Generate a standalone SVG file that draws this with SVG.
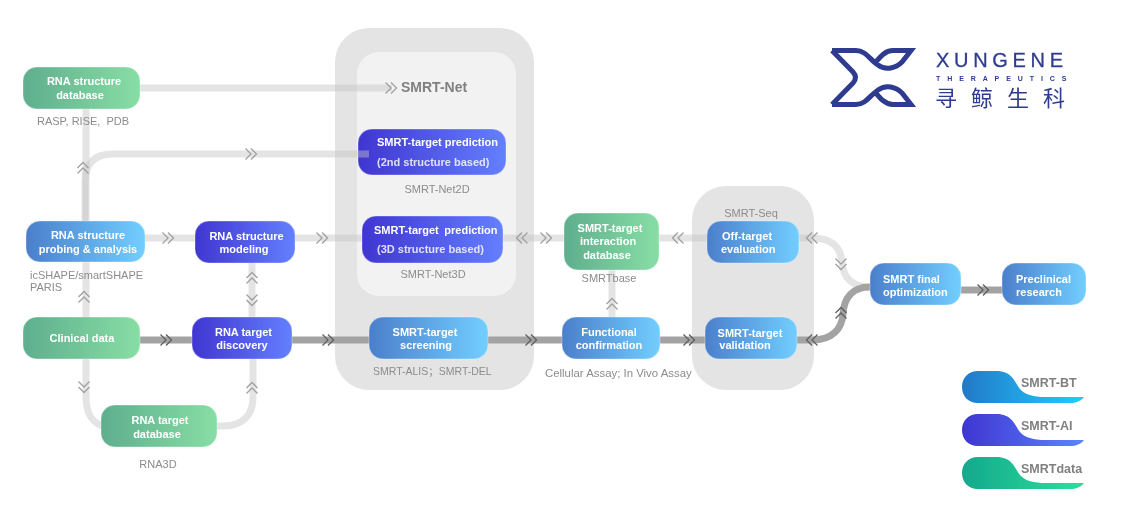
<svg xmlns="http://www.w3.org/2000/svg" width="1146" height="514" viewBox="0 0 1146 514">
<style>
text{font-family:"Liberation Sans",Arial,"Noto Sans CJK SC",sans-serif}
.t{font-size:11px;font-weight:700;fill:#fff;text-anchor:middle}
.s{font-size:11px;font-weight:700;fill:#fff}
.f{fill-opacity:.82}
.l{font-size:11px;fill:#8c8c8c}
.c{text-anchor:middle}
.k{font-size:12.500px;font-weight:700;fill:#808080}
.lt{fill:none;stroke:#c4c4c4;stroke-opacity:.45;stroke-width:7}
.dk{fill:none;stroke:#a3a3a3;stroke-width:7}
.ch{fill:none;stroke:#a0a0a0;stroke-width:1.3}
.chd{fill:none;stroke:#5f5f5f;stroke-width:1.3}
.m{fill:none;stroke:#2f3b8f;stroke-width:5;stroke-miterlimit:8}
.lg{fill:#2f3b8f}
.n{stroke:#fff;stroke-opacity:.35;stroke-width:1}
</style>
<defs>
<filter id="soft" x="0" y="0" width="100%" height="100%" filterUnits="userSpaceOnUse"><feGaussianBlur stdDeviation="0.4"/></filter>
<linearGradient id="gd"><stop offset="0" stop-color="#5fae8e"/><stop offset="1" stop-color="#87dea4"/></linearGradient>
<linearGradient id="gb"><stop offset="0" stop-color="#4b7fcb"/><stop offset="1" stop-color="#72ceff"/></linearGradient>
<linearGradient id="ga"><stop offset="0" stop-color="#4035d1"/><stop offset="1" stop-color="#647fff"/></linearGradient>
<linearGradient id="kb"><stop offset="0" stop-color="#2478c8"/><stop offset="1" stop-color="#1ecfff"/></linearGradient>
<linearGradient id="ka"><stop offset="0" stop-color="#3f35d1"/><stop offset="1" stop-color="#5c85ff"/></linearGradient>
<linearGradient id="kd"><stop offset="0" stop-color="#14a98c"/><stop offset="1" stop-color="#2ddf9b"/></linearGradient>
<path id="cr" d="M-5.500-5.500L0 0L-5.500 5.500M0-5.500L5.500 0L0 5.500"/>
<path id="blob" d="M16 0H34C50 0 52 10 58 18C63 24 72 26 84 26H122C119 30 114 32 108 32H16C6 32 0 25 0 16C0 7 6 0 16 0Z"/>
</defs>
<rect width="1146" height="514" fill="#fff"/>
<g filter="url(#soft)">
<g id="panels">
<rect x="335" y="28" width="199" height="362" rx="34" fill="#e4e4e4"/>
<rect x="357" y="52" width="159" height="244" rx="22" fill="#f2f2f2"/>
<rect x="692" y="186" width="122" height="204" rx="34" fill="#e4e4e4"/>
</g>
<g id="connectors">
<path class="lt" d="M140 88H392"/>
<path class="lt" d="M85 221V182Q85 154 113 154H369"/>
<path class="lt" d="M86 109V221M86 262V317"/>
<path class="lt" d="M86 359V396C86 414 92 422 102 426"/>
<path class="lt" d="M217 426H224C243 426 253 414 253 398V359M252 317V263"/>
<path class="lt" d="M145 238H195M295 238H362M503 238H564M659 238H707"/>
<path class="lt" d="M612 270V317"/>
<path class="lt" d="M799 238H812C835 238 841 250 842 262C843 278 852 287 870 287"/>
<path class="dk" d="M140 340H192M292 340H369M488 340H562M660 340H705M961 290H1002"/>
<path class="dk" d="M797 340H812C833 340 842 328 843 314C844 298 852 287 870 287"/>
<use href="#cr" class="ch" x="391" y="88"/>
<use href="#cr" class="ch" x="251" y="154"/>
<use href="#cr" class="ch" transform="translate(83 168) rotate(-90)"/>
<use href="#cr" class="ch" x="168" y="238"/>
<use href="#cr" class="ch" x="322" y="238"/>
<use href="#cr" class="ch" transform="translate(522 238) rotate(180)"/>
<use href="#cr" class="ch" x="546" y="238"/>
<use href="#cr" class="ch" transform="translate(678 238) rotate(180)"/>
<use href="#cr" class="ch" transform="translate(812 238) rotate(180)"/>
<use href="#cr" class="ch" transform="translate(841 264) rotate(90)"/>
<use href="#cr" class="ch" transform="translate(84 297) rotate(-90)"/>
<use href="#cr" class="ch" transform="translate(84 387) rotate(90)"/>
<use href="#cr" class="ch" transform="translate(252 278) rotate(-90)"/>
<use href="#cr" class="ch" transform="translate(252 300) rotate(90)"/>
<use href="#cr" class="ch" transform="translate(252 388) rotate(-90)"/>
<use href="#cr" class="ch" transform="translate(612 304) rotate(-90)"/>
<use href="#cr" class="chd" x="166" y="340"/>
<use href="#cr" class="chd" x="328" y="340"/>
<use href="#cr" class="chd" x="531" y="340"/>
<use href="#cr" class="chd" x="689" y="340"/>
<use href="#cr" class="chd" transform="translate(812 340) rotate(180)"/>
<use href="#cr" class="chd" transform="translate(841 313) rotate(-90)"/>
<use href="#cr" class="chd" x="983" y="290"/>
</g>
<g id="n-struct-db"><rect class="n" x="23" y="67" width="117" height="42" rx="14" fill="url(#gd)"/><text class="t" x="84" y="85">RNA structure</text><text class="t" x="80" y="99">database</text><text class="l" x="37" y="125" xml:space="preserve">RASP, RISE,  PDB</text></g>
<g id="n-probing"><rect class="n" x="26" y="221" width="119" height="41" rx="14" fill="url(#gb)"/><text class="t" x="88" y="239">RNA structure</text><text class="t" x="88" y="253">probing &amp; analysis</text><text class="l" x="30" y="279">icSHAPE/smartSHAPE</text><text class="l" x="30" y="291">PARIS</text></g>
<g id="n-modeling"><rect class="n" x="195" y="221" width="100" height="42" rx="14" fill="url(#ga)"/><text class="t" x="246.500" y="240">RNA structure</text><text class="t" x="244" y="253">modeling</text></g>
<g id="n-clinical"><rect class="n" x="23" y="317" width="117" height="42" rx="14" fill="url(#gd)"/><text class="t" x="82" y="342">Clinical data</text></g>
<g id="n-discovery"><rect class="n" x="192" y="317" width="100" height="42" rx="14" fill="url(#ga)"/><text class="t" x="243.500" y="336">RNA target</text><text class="t" x="242" y="349">discovery</text></g>
<g id="n-target-db"><rect class="n" x="101" y="405" width="116" height="42" rx="14" fill="url(#gd)"/><text class="t" x="160" y="424">RNA target</text><text class="t" x="157" y="438">database</text><text class="l c" x="158" y="468">RNA3D</text></g>
<g id="n-smrt-net"><text x="401" y="92" font-size="14" font-weight="700" fill="#808080">SMRT-Net</text></g>
<g id="n-net2d"><rect class="n" x="358" y="129" width="148" height="46" rx="14" fill="url(#ga)"/><text class="s" x="377" y="146">SMRT-target prediction</text><text class="s f" x="377" y="166">(2nd structure based)</text><text class="l c" x="437" y="193">SMRT-Net2D</text></g>
<path class="lt" d="M358 154H369"/>
<g id="n-net3d"><rect class="n" x="362" y="216" width="141" height="47" rx="14" fill="url(#ga)"/><text class="s" x="374" y="234" word-spacing="2.500">SMRT-target prediction</text><text class="s f" x="377" y="253">(3D structure based)</text><text class="l c" x="433" y="278">SMRT-Net3D</text></g>
<g id="n-screening"><rect class="n" x="369" y="317" width="119" height="42" rx="14" fill="url(#gb)"/><text class="t" x="425" y="336">SMRT-target</text><text class="t" x="426" y="349">screening</text><text class="l" x="373" y="375" style="font-size:10.500px">SMRT-ALIS；SMRT-DEL</text></g>
<g id="n-functional"><rect class="n" x="562" y="317" width="98" height="42" rx="14" fill="url(#gb)"/><text class="t" x="609" y="336">Functional</text><text class="t" x="609" y="349">confirmation</text><text class="l" x="545" y="377" style="font-size:11.400px">Cellular Assay; In Vivo Assay</text></g>
<g id="n-interaction"><rect class="n" x="564" y="213" width="95" height="57" rx="14" fill="url(#gd)"/><text class="t" x="610" y="232">SMRT-target</text><text class="t" x="608" y="245">interaction</text><text class="t" x="607" y="259">database</text><text class="l c" x="609" y="282">SMRTbase</text></g>
<g id="n-offtarget"><rect class="n" x="707" y="221" width="92" height="42" rx="14" fill="url(#gb)"/><text class="s" x="722" y="240">Off-target</text><text class="s" x="721" y="253">evaluation</text><text class="l c" x="751" y="217">SMRT-Seq</text></g>
<g id="n-validation"><rect class="n" x="705" y="317" width="92" height="42" rx="14" fill="url(#gb)"/><text class="t" x="750" y="337">SMRT-target</text><text class="t" x="745" y="349">validation</text></g>
<g id="n-final"><rect class="n" x="870" y="263" width="91" height="42" rx="14" fill="url(#gb)"/><text class="s" x="883" y="283">SMRT final</text><text class="s" x="883" y="296">optimization</text></g>
<g id="n-preclinical"><rect class="n" x="1002" y="263" width="84" height="42" rx="14" fill="url(#gb)"/><text class="s" x="1016" y="283">Preclinical</text><text class="s" x="1016" y="296">research</text></g>
<g id="legend">
<use href="#blob" x="962" y="371" fill="url(#kb)"/><text class="k" x="1021" y="387">SMRT-BT</text>
<use href="#blob" x="962" y="414" fill="url(#ka)"/><text class="k" x="1021" y="430">SMRT-AI</text>
<use href="#blob" x="962" y="457" fill="url(#kd)"/><text class="k" x="1021" y="473">SMRTdata</text>
</g>
<g id="logo">
<path class="m" d="M832 50.500H856C866 50.500 870 60 878 65C886 71 896 68 902 62L911 50.500H893C885 50.500 880 57 875 63"/>
<path class="m" d="M832 104.500H856C866 104.500 870 95 878 90C886 84 896 87 902 93L911 104.500H893C885 104.500 880 98 875 92"/>
<path class="m" d="M832 50.500L853 72Q858 77.500 853 83L832 104.500"/>
<text class="lg" x="936" y="67" font-size="20" letter-spacing="4.700" stroke="#2f3b8f" stroke-width=".3">XUNGENE</text>
<text class="lg" x="936" y="81" font-size="7" font-weight="700" letter-spacing="6.900">THERAPEUTICS</text>
<text class="lg" x="935" y="106" font-size="22" letter-spacing="14" style="font-family:'Noto Sans CJK SC','Liberation Sans',sans-serif">寻鲸生科</text>
</g>
</g>
</svg>
